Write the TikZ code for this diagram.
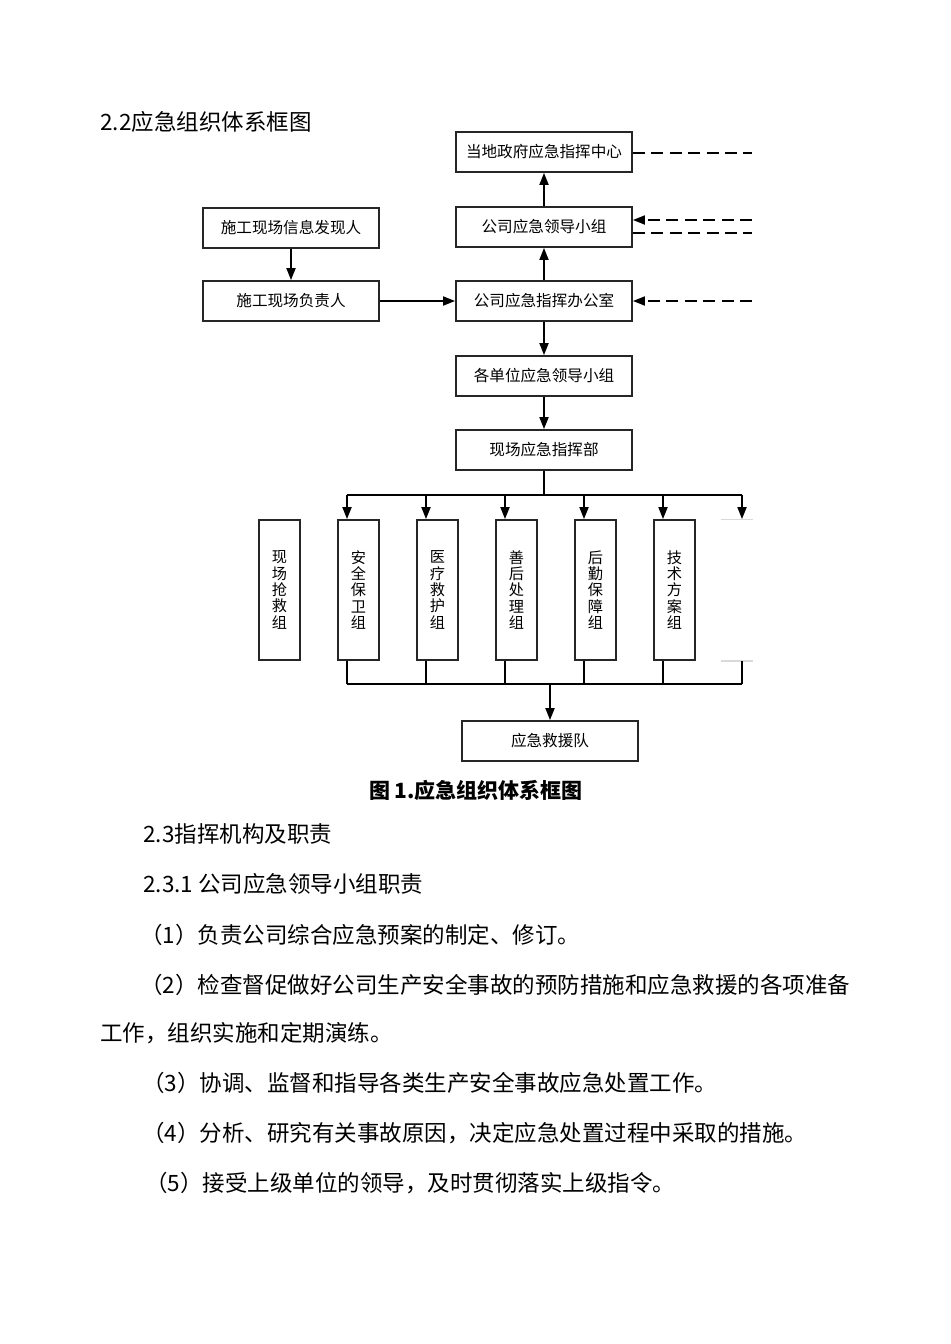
\documentclass[tikz,border=0pt]{standalone}
\usepackage{fontspec}
\setmainfont{Noto Sans CJK SC}
\usetikzlibrary{arrows.meta,positioning}
\tikzset{
  box/.style={draw=black!85,line width=.9pt,minimum width=88pt,minimum height=20pt,inner sep=0pt,font=\fontsize{7.8}{9}\selectfont},
  vbox/.style={draw=black!85,line width=.9pt,minimum width=20.5pt,minimum height=70pt,inner sep=0pt,align=center,font=\fontsize{7.6}{8.2}\selectfont},
  para/.style={anchor=west,inner sep=0pt,font=\fontsize{11.25}{13}\selectfont},
  dline/.style={line width=.9pt,dash pattern=on 6pt off 3.2pt},
  >={Triangle[length=6pt,width=4.5pt]}
}
\begin{document}
\begin{tikzpicture}[x=.5pt,y=-.5pt]
\fill [white] (0,0) rectangle (950,1344);
\useasboundingbox (0,0) rectangle (950,1344);
\node [para] (h22) at (100,122) {2.2应急组织体系框图};
% main chain
\node [box] (gov) at (544,152) {当地政府应急指挥中心};
\node [box] (lead) at (544,227) {公司应急领导小组};
\node [box] (office) at (544,301) {公司应急指挥办公室};
\node [box] (unit) at (544,376) {各单位应急领导小组};
\node [box] (cmd) at (544,450) {现场应急指挥部};
\node [box] (finder) at (291,228) {施工现场信息发现人};
\node [box] (site) at (291,301) {施工现场负责人};
\draw [line width=.9pt,->] (finder) -- (site);
\draw [line width=.9pt,->] (site) -- (office);
\draw [line width=.9pt,->] (office) -- (lead);
\draw [line width=.9pt,->] (lead) -- (gov);
\draw [line width=.9pt,->] (office) -- (unit);
\draw [line width=.9pt,->] (unit) -- (cmd);
% dashed links on the right
\coordinate (r1) at (752,153);
\coordinate (r2) at (752,220);
\coordinate (r3) at (752,233);
\coordinate (r4) at (752,301);
\draw [dline] (gov.east |- r1) -- (r1);
\draw [dline,->] (r2) -- (lead.east |- r2);
\draw [dline] (lead.east |- r3) -- (r3);
\draw [dline,->] (r4) -- (office.east |- r4);
% groups
\node [vbox] (g1) at (279.5,590) {现\\场\\抢\\救\\组};
\node [vbox] (g2) at (358.5,590) {安\\全\\保\\卫\\组};
\node [vbox] (g3) at (437.5,590) {医\\疗\\救\\护\\组};
\node [vbox] (g4) at (516.5,590) {善\\后\\处\\理\\组};
\node [vbox] (g5) at (595.5,590) {后\\勤\\保\\障\\组};
\node [vbox] (g6) at (674.5,590) {技\\术\\方\\案\\组};
\node [vbox,draw=none,minimum width=15pt] (g7) at (737,590) {};
\draw [black!15,line width=.6pt] (g7.north west) -- (g7.north east);
\draw [black!15,line width=.6pt] (g7.south west) -- (g7.south east);
\node [box] (rescue) at (550,741) {应急救援队};
\coordinate (bus) at (550,684);
\foreach \x/\g in {347/g2,426/g3,505/g4,584/g5,663/g6,742/g7}{
  \coordinate (top\g) at (\x,495);
  \draw [line width=.9pt,->] (top\g) -- (top\g |- \g.north);
  \draw [line width=.9pt] (top\g |- \g.south) -- (top\g |- bus);
}
\draw [line width=1.4pt] (cmd) -- (cmd |- topg2);
\draw [line width=.9pt] (topg2) -- (topg7);
\draw [line width=.9pt] (topg2 |- bus) -- (topg7 |- bus);
\draw [line width=.9pt,->] (bus) -- (rescue);
\node [font=\fontsize{10.5}{12}\bfseries\selectfont,inner sep=0pt] (cap) at (476,790) {图 1.应急组织体系框图};
% text below
\node [para] (h23) at (143,834) {2.3指挥机构及职责};
\node [para] (h231) at (143,884) {2.3.1 公司应急领导小组职责};
\node [para] (p1) at (140,935) {（1）负责公司综合应急预案的制定、修订。};
\node [para] (p2) at (140,985) {（2）检查督促做好公司生产安全事故的预防措施和应急救援的各项准备};
\node [para] (p2b) at (100,1033) {工作，组织实施和定期演练。};
\node [para] (p3) at (142,1083) {（3）协调、监督和指导各类生产安全事故应急处置工作。};
\node [para] (p4) at (142,1133) {（4）分析、研究有关事故原因，决定应急处置过程中采取的措施。};
\node [para] (p5) at (145,1183) {（5）接受上级单位的领导，及时贯彻落实上级指令。};
\end{tikzpicture}
\end{document}
